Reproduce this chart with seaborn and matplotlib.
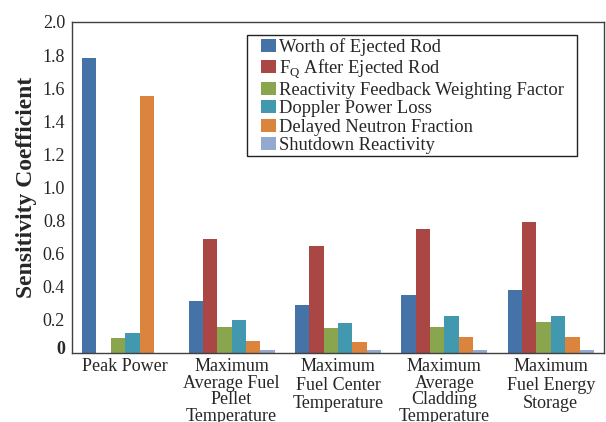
import matplotlib
matplotlib.use("Agg")
import matplotlib.pyplot as plt
import matplotlib.transforms as mtransforms
from matplotlib.patches import Rectangle
import seaborn as sns
import pandas as pd
import numpy as np

# Sensitivity coefficients of each parameter for each safety criterion
categories = [
    "Peak Power",
    "Maximum\nAverage Fuel\nPellet\nTemperature",
    "Maximum\nFuel Center\nTemperature",
    "Maximum\nAverage\nCladding\nTemperature",
    "Maximum\nFuel Energy\nStorage",
]
parameters = [
    "Worth of Ejected Rod",
    r"F$_\mathrm{Q}$ After Ejected Rod",
    "Reactivity Feedback Weighting Factor",
    "Doppler Power Loss",
    "Delayed Neutron Fraction",
    "Shutdown Reactivity",
]
worth_of_ejected_rod = [1.78, 0.315, 0.29, 0.35, 0.38]
fq_after_ejected_rod = [0.0, 0.69, 0.645, 0.75, 0.79]
reactivity_feedback = [0.09, 0.155, 0.148, 0.155, 0.185]
doppler_power_loss = [0.117, 0.20, 0.177, 0.222, 0.224]
delayed_neutron_fraction = [1.555, 0.073, 0.067, 0.095, 0.094]
shutdown_reactivity = [0.0, 0.014, 0.014, 0.016, 0.016]

y_ticks = [0.0, 0.2, 0.4, 0.6, 0.8, 1.0, 1.2, 1.4, 1.6, 1.8, 2.0]
y_tick_labels = ["0", "0.2", "0.4", "0.6", "0.8", "1.0", "1.2", "1.4", "1.6", "1.8", "2.0"]

series = [worth_of_ejected_rod, fq_after_ejected_rod, reactivity_feedback,
          doppler_power_loss, delayed_neutron_fraction, shutdown_reactivity]
rows = []
for name, vals in zip(parameters, series):
    for cat, v in zip(categories, vals):
        rows.append({"Criterion": cat, "Parameter": name, "Coefficient": v})
df = pd.DataFrame(rows)

colors = ["#4572A7", "#AA4643", "#89A54E", "#4198AF", "#DB843D", "#93A9CF"]

sns.set_style("white")
plt.rcParams["font.family"] = ["Liberation Serif", "DejaVu Serif"]
plt.rcParams["mathtext.fontset"] = "custom"
plt.rcParams["mathtext.rm"] = "Liberation Serif"

fig = plt.figure(figsize=(6.06, 4.22), dpi=100)
ax = fig.add_axes([0.1188, 0.1642, 0.8779, 0.7837])

sns.barplot(data=df, x="Criterion", y="Coefficient", hue="Parameter",
            hue_order=parameters, order=categories, palette=colors,
            width=0.81, gap=0, saturation=1, ax=ax, linewidth=0)

ax.set_ylim(0, 2.0)
ax.set_xlim(-0.5, len(categories) - 0.5)
ax.set_yticks(y_ticks)
ax.set_yticklabels(y_tick_labels, fontsize=13)
ax.set_xticks(range(len(categories)))
ax.set_xticklabels(categories, fontsize=13, va="top")
for lbl in ax.get_xticklabels():
    n_lines = lbl.get_text().count("\n") + 1
    lbl.set_linespacing(0.97 if n_lines >= 4 else 1.12)
ax.tick_params(axis="x", length=0, pad=4)
ax.set_xticks(np.arange(0.5, len(categories) - 0.5, 1.0), minor=True)
ax.tick_params(axis="x", which="minor", direction="in", length=4, width=1, color="#404040")
ax.tick_params(axis="y", direction="out", length=3, width=1, color="#404040", pad=2)

# the "0" label sits a little above the baseline
zero_label = ax.get_yticklabels()[0]
zero_label.set_transform(zero_label.get_transform()
                         + mtransforms.ScaledTranslation(0, 5 / 100, fig.dpi_scale_trans))
zero_label.set_fontweight("bold")

ax.set_xlabel("")
ax.set_ylabel("Sensitivity Coefficient", fontsize=17, fontweight="bold", labelpad=4)

for sp in ax.spines.values():
    sp.set_visible(True)
    sp.set_color("#404040")
    sp.set_linewidth(1.0)

leg = ax.legend(loc="upper left", bbox_to_anchor=(0.355, 0.952), fontsize=13.3,
                frameon=False, handlelength=0.8, handleheight=0.72,
                handletextpad=0.2, labelspacing=0.08, borderpad=0, borderaxespad=0)

# legend frame drawn as its own box
ax.add_patch(Rectangle((0.329, 0.595), 0.62, 0.367, transform=ax.transAxes,
                       fill=False, edgecolor="#222222", linewidth=1.0, zorder=5))

fig.savefig("out.png", dpi=100)
